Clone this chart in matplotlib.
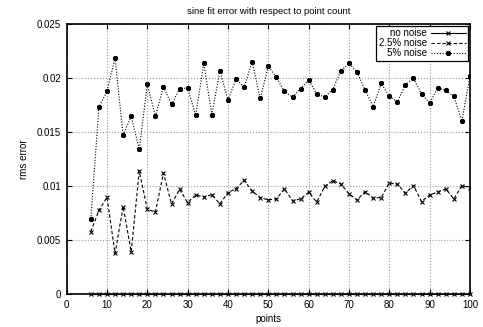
import matplotlib
matplotlib.use("Agg")
import matplotlib.pyplot as plt
import numpy as np

plt.rcParams['font.family'] = ['Liberation Sans', 'DejaVu Sans']

# point counts 6, 8, ..., 100
points = list(range(6, 101, 2))

no_noise = [0.0] * len(points)

noise_25 = [0.00579, 0.00775, 0.00897, 0.00377, 0.00811, 0.00393, 0.01137, 0.00787,
            0.00759, 0.01119, 0.00835, 0.00970, 0.00848, 0.00918, 0.00899, 0.00921,
            0.00835, 0.00940, 0.00976, 0.01052, 0.00954, 0.00894, 0.00872, 0.00881,
            0.00973, 0.00866, 0.00881, 0.00942, 0.00853, 0.00997, 0.01049, 0.01018,
            0.00930, 0.00872, 0.00949, 0.00890, 0.00894, 0.01028, 0.01016, 0.00936,
            0.01004, 0.00857, 0.00918, 0.00945, 0.00973, 0.00881, 0.01004, 0.00985]

noise_5 = [0.00695, 0.01729, 0.01874, 0.02182, 0.01470, 0.01645, 0.01340, 0.01940,
           0.01645, 0.01917, 0.01754, 0.01898, 0.01907, 0.01652, 0.02133, 0.01661,
           0.02065, 0.01794, 0.01990, 0.01914, 0.02148, 0.01809, 0.02108, 0.02004,
           0.01874, 0.01821, 0.01898, 0.01981, 0.01852, 0.01821, 0.01892, 0.02065,
           0.02133, 0.02056, 0.01886, 0.01735, 0.01948, 0.01831, 0.01778, 0.01935,
           0.01994, 0.01852, 0.01766, 0.01907, 0.01883, 0.01828, 0.01600, 0.02016]

xticks = [0, 10, 20, 30, 40, 50, 60, 70, 80, 90, 100]
yticks = [0, 0.005, 0.01, 0.015, 0.02, 0.025]
ytick_labels = ['0', '0.005', '0.01', '0.015', '0.02', '0.025']

fig = plt.figure(figsize=(4.83, 3.27), dpi=100)
ax = fig.add_axes([0.138, 0.1, 0.835, 0.8275])

ax.plot(points, no_noise, color='black', linestyle='-', linewidth=0.8,
        marker='x', markersize=3.2, markeredgewidth=0.8, label='no noise', clip_on=False)
ax.plot(points, noise_25, color='black', linestyle=(0, (3, 2)), linewidth=0.8,
        marker='x', markersize=3.2, markeredgewidth=0.8, label='2.5% noise')
ax.plot(points, noise_5, color='black', linestyle=(0, (1, 1.5)), linewidth=0.8,
        marker=(8, 2, 0), markersize=3.6, markeredgewidth=0.9, label='5% noise')

ax.set_xlim(0, 100)
ax.set_ylim(0, 0.025)
ax.set_xticks(xticks)
ax.set_yticks(yticks)
ax.set_yticklabels(ytick_labels)
ax.tick_params(direction='in', length=3.5, width=0.8, top=True, right=True,
               labelsize=7, pad=4, colors='black')
ax.grid(True, color='#999999', linestyle=':', linewidth=0.8)
for s in ax.spines.values():
    s.set_linewidth(1.2)

ax.set_title('sine fit error with respect to point count', fontsize=6.8, pad=7)
ax.set_xlabel('points', fontsize=7, labelpad=3)
ax.set_ylabel('rms error', fontsize=7, labelpad=6)

leg = ax.legend(loc='upper right', markerfirst=False, fontsize=7, frameon=True,
                fancybox=False, edgecolor='black', framealpha=1, borderaxespad=0.2,
                handlelength=3.6, handletextpad=0.4, labelspacing=0.0,
                borderpad=0.25)
leg.get_frame().set_linewidth(0.9)

fig.savefig('out.png', dpi=100)
